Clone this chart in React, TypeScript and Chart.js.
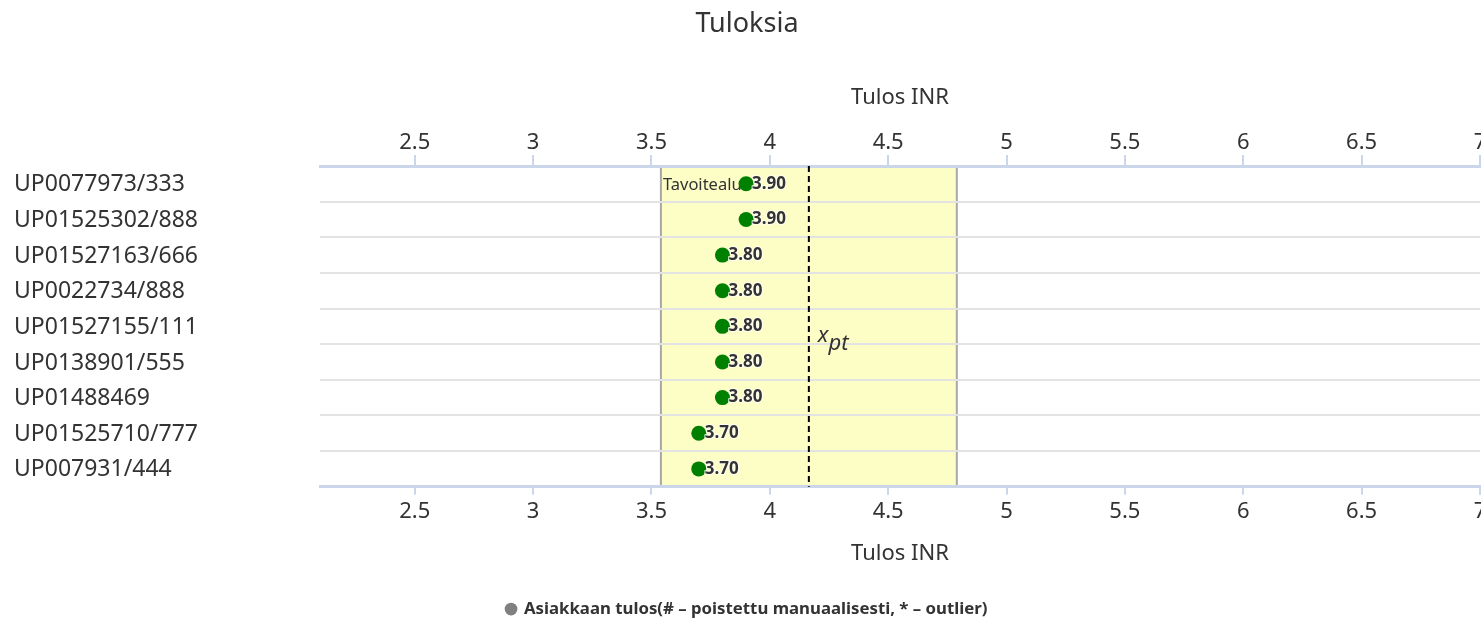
import React, { useEffect, useRef } from 'react';
import { Chart, registerables } from 'chart.js';

Chart.register(...registerables);

const categories = [
  'UP0077973/333',
  'UP01525302/888',
  'UP01527163/666',
  'UP0022734/888',
  'UP01527155/111',
  'UP0138901/555',
  'UP01488469',
  'UP01525710/777',
  'UP007931/444',
];
const results = [3.9, 3.9, 3.8, 3.8, 3.8, 3.8, 3.8, 3.7, 3.7];
const assignedValue = 4.165;
const targetLow = 3.54;
const targetHigh = 4.79;
const xMin = 2.1;
const xMax = 7;
const tickStep = 0.5;
const chartTitle = 'Tuloksia';
const axisTitle = 'Tulos INR';
const legendLabel = 'Asiakkaan tulos(# – poistettu manuaalisesti, * – outlier)';
const bandLabel = 'Tavoitealue';

const FONT = "'Noto Sans', 'Open Sans', sans-serif";
const TEXT = '#333333';

const overlayPlugin = {
  id: 'overlay',
  beforeDraw(chart: any) {
    const { ctx, chartArea: a, scales } = chart;
    const x = scales.x;
    const x1 = x.getPixelForValue(targetLow);
    const x2 = x.getPixelForValue(targetHigh);
    ctx.save();
    ctx.fillStyle = '#fdfdc6';
    ctx.fillRect(x1, a.top, x2 - x1, a.bottom - a.top);
    ctx.strokeStyle = '#a8a8a8';
    ctx.lineWidth = 2;
    ctx.strokeRect(x1, a.top, x2 - x1, a.bottom - a.top);
    ctx.restore();
  },
  beforeDatasetsDraw(chart: any) {
    const { ctx, chartArea: a, scales } = chart;
    const x = scales.x;
    const x1 = x.getPixelForValue(targetLow);
    const xp = x.getPixelForValue(assignedValue);
    ctx.save();
    ctx.strokeStyle = '#000000';
    ctx.lineWidth = 2;
    ctx.setLineDash([6, 4]);
    ctx.beginPath();
    ctx.moveTo(xp, a.top);
    ctx.lineTo(xp, a.bottom);
    ctx.stroke();
    ctx.setLineDash([]);
    ctx.fillStyle = TEXT;
    ctx.font = `16.5px ${FONT}`;
    ctx.textBaseline = 'middle';
    ctx.textAlign = 'left';
    ctx.fillText(bandLabel, x1 + 2, a.top + 19);
    const midY = (a.top + a.bottom) / 2;
    ctx.font = `italic 22px ${FONT}`;
    ctx.textBaseline = 'alphabetic';
    ctx.fillText('x', xp + 9, midY + 16);
    const w = ctx.measureText('x').width;
    ctx.fillText('pt', xp + 9 + w, midY + 24);
    ctx.restore();
  },
  afterDatasetsDraw(chart: any) {
    const { ctx } = chart;
    const meta = chart.getDatasetMeta(0);
    ctx.save();
    ctx.font = `bold 17px ${FONT}`;
    ctx.textBaseline = 'middle';
    ctx.textAlign = 'left';
    ctx.lineJoin = 'round';
    meta.data.forEach((el: any, i: number) => {
      const t = results[i].toFixed(2);
      ctx.strokeStyle = 'rgba(255,255,255,0.8)';
      ctx.lineWidth = 2;
      ctx.strokeText(t, el.x + 6, el.y);
      ctx.fillStyle = TEXT;
      ctx.fillText(t, el.x + 6, el.y);
    });
    ctx.restore();
  },
};

export default function App() {
  const ref = useRef<HTMLCanvasElement | null>(null);

  useEffect(() => {
    document.body.style.margin = '0';
    const canvas = ref.current;
    if (!canvas) return;
    const xAxisCommon = (position: 'top' | 'bottom') => ({
      type: 'linear' as const,
      position,
      min: xMin,
      max: xMax,
      ticks: {
        stepSize: tickStep,
        includeBounds: false,
        font: { family: FONT, size: 22 },
        color: TEXT,
        padding: position === 'top' ? -0.5 : 3.5,
        maxRotation: 0,
        autoSkip: false,
        callback: (v: any) => String(Math.round(Number(v) * 100) / 100),
      },
      grid: {
        drawOnChartArea: false,
        drawTicks: true,
        tickLength: position === 'top' ? 11 : 8,
        color: '#ccd6eb',
        lineWidth: 2,
      },
      border: { display: true, color: '#ccd6eb', width: 3 },
      title: {
        display: true,
        text: axisTitle,
        font: { family: FONT, size: 22 },
        color: TEXT,
        padding: position === 'top' ? { top: 4.4, bottom: 0 } : { top: 0, bottom: 23.4 },
      },
      afterFit: (s: any) => {
        s.height = position === 'top' ? 86 : 104;
        s.paddingLeft = 0;
        s.paddingRight = 0;
      },
    });

    const chart = new Chart(canvas, {
      type: 'scatter',
      data: {
        labels: categories,
        datasets: [
          {
            label: legendLabel,
            data: results.map((v, i) => ({ x: v, y: categories[i] })) as any,
            backgroundColor: '#008000',
            borderColor: '#008000',
            borderWidth: 0,
            pointRadius: 7.5,
            pointHoverRadius: 7.5,
            xAxisID: 'x',
            yAxisID: 'y',
          },
        ],
      },
      options: {
        responsive: false,
        animation: false,
        devicePixelRatio: 1,
        layout: { autoPadding: false, padding: { left: 14, right: 1, top: 0, bottom: -8.5 } },
        scales: {
          x: xAxisCommon('bottom') as any,
          x2: xAxisCommon('top') as any,
          y: {
            type: 'category',
            labels: categories,
            offset: true,
            position: 'left',
            ticks: {
              font: { family: FONT, size: 23 },
              color: TEXT,
              crossAlign: 'far',
              padding: 0,
              labelOffset: 1,
              autoSkip: false,
            },
            grid: {
              offset: true,
              color: '#e3e3e3',
              lineWidth: 2,
              drawTicks: false,
            },
            border: { display: false },
            afterFit: (s: any) => {
              s.width = 306;
            },
          } as any,
        },
        plugins: {
          title: {
            display: true,
            text: chartTitle,
            font: { family: FONT, size: 27, weight: 'normal' },
            color: TEXT,
            padding: { top: 8.4, bottom: 39.2 },
          },
          legend: {
            display: true,
            position: 'bottom',
            labels: {
              usePointStyle: true,
              boxHeight: 9,
              boxWidth: 9,
              padding: 10,
              font: { family: FONT, size: 16.8, weight: 'bold' },
              color: TEXT,
              generateLabels: () => [
                {
                  text: legendLabel,
                  fillStyle: '#808080',
                  strokeStyle: '#808080',
                  lineWidth: 0,
                  pointStyle: 'circle',
                  hidden: false,
                  datasetIndex: 0,
                  fontColor: TEXT,
                } as any,
              ],
            },
          },
          tooltip: { enabled: false },
        },
      },
      plugins: [overlayPlugin],
    });
    return () => chart.destroy();
  }, []);

  return (
    <div style={{ width: 1481, height: 619 }}>
      <canvas ref={ref} width={1481} height={619} style={{ display: 'block' }} />
    </div>
  );
}
